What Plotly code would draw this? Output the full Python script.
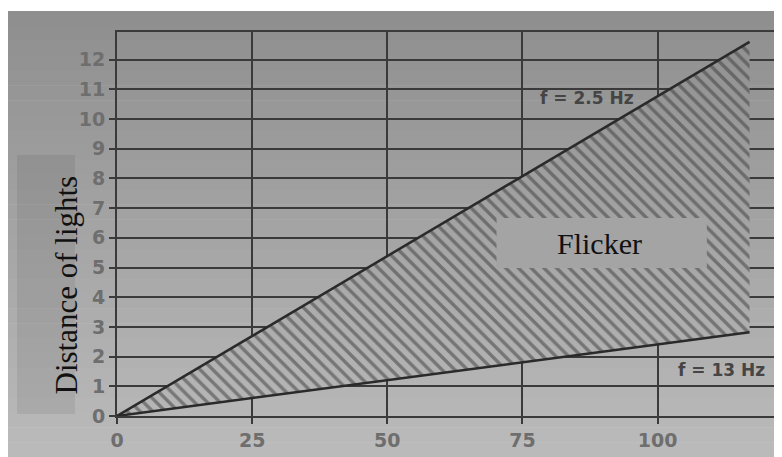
import plotly.graph_objects as go

# ---- data ----
x_end_points = [0, 117]          # horizontal extent of the two limit lines
f_2_5_hz = [0, 12.6]             # upper limit line (f = 2.5 Hz)
f_13_hz = [0, 2.82]              # lower limit line (f = 13 Hz)
x_ticks = [0, 25, 50, 75, 100]
y_ticks = list(range(0, 13))
y_top = 12.93
x_right = 123

# page is offset by the 8px body margin of the html page
OFF = 8
W, H = 782 - OFF, 457 - OFF
PLOT_L, PLOT_R, PLOT_T, PLOT_B = 117, 782, 32, 416   # page pixels
ML, MR, MT = PLOT_L - OFF, 0, PLOT_T - OFF
MB = H - (PLOT_B - OFF)
PW, PH = PLOT_R - PLOT_L, PLOT_B - PLOT_T

def px(xp):   # page pixel x -> paper fraction
    return (xp - PLOT_L) / PW

def py(yp):   # page pixel y -> paper fraction
    return (PLOT_B - yp) / PH

def gray_at(yp):
    v = int(round(142 + (yp - 11) / (457 - 11) * (187 - 142)))
    v = max(0, min(255, v))
    return f"rgb({v},{v},{v})"

shapes = []
n = 30
for i in range(n):
    y0 = 11 + (457 - 11) * i / n
    y1 = 11 + (457 - 11) * (i + 1) / n
    shapes.append(dict(type="rect", xref="paper", yref="paper", layer="below",
                       x0=px(0), x1=px(800), y0=py(y1 + 0.5), y1=py(y0),
                       fillcolor=gray_at((y0 + y1) / 2), line=dict(width=0)))
shapes.append(dict(type="rect", xref="paper", yref="paper", layer="below",
                   x0=px(17), x1=px(75), y0=py(414), y1=py(155),
                   fillcolor="rgba(0,0,0,0.07)", line=dict(width=0)))
shapes.append(dict(type="rect", xref="x", yref="y", layer="above",
                   x0=70.2, x1=109.1, y0=4.98, y1=6.67,
                   fillcolor="#a4a4a4", line=dict(width=0)))

poly_x = x_end_points + x_end_points[::-1]
poly_y = f_13_hz + f_2_5_hz[::-1]

fig = go.Figure()
fig.add_trace(go.Scatter(
    x=poly_x, y=poly_y, mode="lines", fill="toself",
    line=dict(width=0), hoverinfo="skip", showlegend=False,
    fillgradient=dict(type="vertical", start=0, stop=y_top,
                      colorscale=[[0, gray_at(416)], [1, gray_at(32)]])))
fig.add_trace(go.Scatter(
    x=poly_x, y=poly_y, mode="lines", fill="toself",
    line=dict(width=0), hoverinfo="skip", showlegend=False,
    fillcolor="rgba(0,0,0,0)",
    fillpattern=dict(shape="\\", size=9, solidity=0.38, fgcolor="#3a3a3a",
                     bgcolor="rgba(0,0,0,0)")))
fig.add_trace(go.Scatter(x=x_end_points, y=f_2_5_hz, mode="lines",
                         line=dict(color="#2a2a2a", width=2.5), showlegend=False))
fig.add_trace(go.Scatter(x=x_end_points, y=f_13_hz, mode="lines",
                         line=dict(color="#2a2a2a", width=2.5), showlegend=False))

tick_font = dict(family="DejaVu Sans", size=19, color="#6e6e6e", weight="bold")
grid_col = "#3a3a3a"

fig.update_layout(
    width=W, height=H,
    margin=dict(l=ML, r=MR, t=MT, b=MB, pad=0),
    paper_bgcolor="white", plot_bgcolor="rgba(0,0,0,0)",
    showlegend=False,
    shapes=shapes,
    xaxis=dict(range=[0, x_right], tickvals=x_ticks, ticktext=[str(v) for v in x_ticks],
               showgrid=True, gridcolor=grid_col, gridwidth=2, zeroline=False,
               showline=True, linecolor=grid_col, linewidth=2, mirror=True,
               ticks="outside", ticklen=6, tickwidth=2, tickcolor=grid_col,
               tickfont=tick_font, fixedrange=True),
    yaxis=dict(range=[0, y_top], tickvals=y_ticks, ticktext=[str(v) for v in y_ticks],
               showgrid=True, gridcolor=grid_col, gridwidth=2, zeroline=False,
               showline=True, linecolor=grid_col, linewidth=2, mirror=False,
               ticks="outside", ticklen=6, tickwidth=2, tickcolor=grid_col,
               tickfont=tick_font, fixedrange=True),
    annotations=[
        dict(x=89.3, y=5.82, xref="x", yref="y", text="Flicker", showarrow=False,
             font=dict(family="Liberation Serif", size=30, color="#111")),
        dict(x=86.9, y=10.7, xref="x", yref="y", text="f = 2.5 Hz", showarrow=False,
             font=dict(family="DejaVu Sans", size=17, color="#454545", weight="bold")),
        dict(x=111.8, y=1.55, xref="x", yref="y", text="f = 13 Hz", showarrow=False,
             font=dict(family="DejaVu Sans", size=17, color="#454545", weight="bold")),
        dict(x=px(46), y=py(285), xref="paper", yref="paper", text="Distance of lights",
             showarrow=False, textangle=-90,
             font=dict(family="Liberation Serif", size=31, color="#111")),
    ],
)

fig.write_html("out.html")
